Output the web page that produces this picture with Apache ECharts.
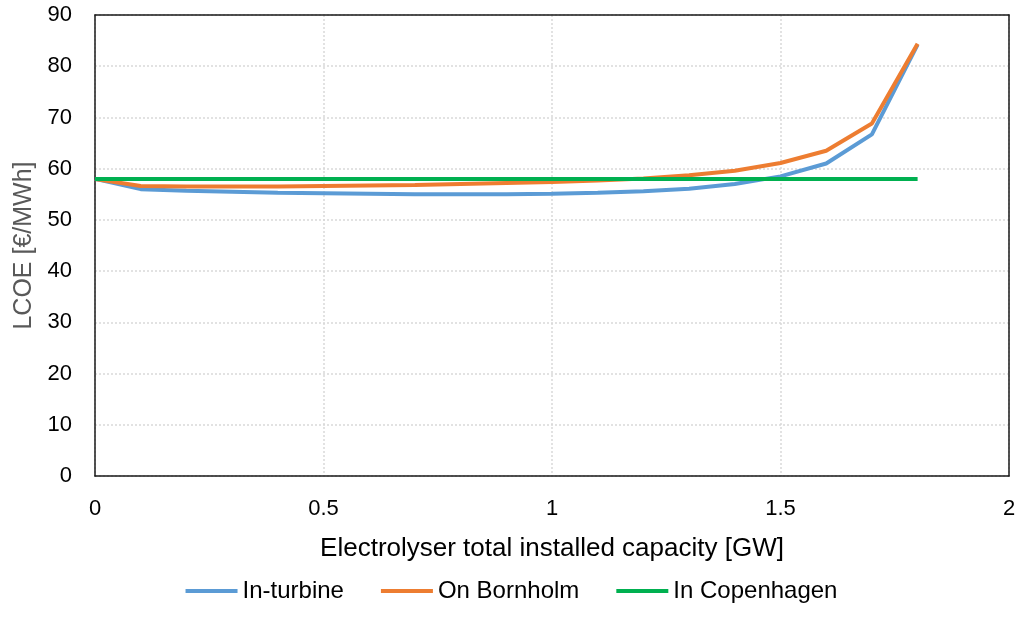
<!DOCTYPE html>
<html>
<head>
<meta charset="utf-8">
<script src="https://cdn.jsdelivr.net/npm/echarts@6/dist/echarts.min.js"></script>
<style>
  html, body { margin: 0; padding: 0; background: #fff; }
  #chart { width: 1023px; height: 632px; }
</style>
</head>
<body>
<div id="chart"></div>
<script>
// capacity in GW
const capacity = [0, 0.1, 0.2, 0.3, 0.4, 0.5, 0.6, 0.7, 0.8, 0.9, 1.0, 1.1, 1.2, 1.3, 1.4, 1.5, 1.6, 1.7, 1.8];
// LCOE [€/MWh]
const inTurbine = [58, 56.0, 55.7, 55.5, 55.3, 55.2, 55.1, 55.0, 55.0, 55.0, 55.1, 55.3, 55.6, 56.1, 57.0, 58.5, 61.0, 66.7, 84.2];
const onBornholm = [58, 56.6, 56.5, 56.5, 56.5, 56.6, 56.7, 56.8, 57.0, 57.2, 57.4, 57.7, 58.1, 58.7, 59.6, 61.1, 63.5, 68.8, 84.4];
const inCopenhagen = [58, 58, 58, 58, 58, 58, 58, 58, 58, 58, 58, 58, 58, 58, 58, 58, 58, 58, 58];
const seriesNames = ["In-turbine", "On Bornholm", "In Copenhagen"];
const xTicks = [0, 0.5, 1, 1.5, 2];

const pairs = (ys) => capacity.map((x, i) => [x, ys[i]]);

const chart = echarts.init(document.getElementById("chart"));
const font = "Liberation Sans, Arial, sans-serif";
const gridLine = { show: true, lineStyle: { color: "#d9d9d9", type: [2, 2], width: 1.5 } };
const frameLine = { show: true, onZero: false, lineStyle: { color: "#1a1a1a", width: 1.5 } };

const lineSeries = (name, ys, color) => ({
  name: name,
  type: "line",
  data: pairs(ys),
  showSymbol: false,
  symbol: "none",
  lineStyle: { color: color, width: 4 },
  itemStyle: { color: color },
  z: 3,
});

chart.setOption({
  animation: false,
  textStyle: { fontFamily: font },
  grid: {
    left: 95,
    right: 14,
    top: 15,
    bottom: 156,
  },
  legend: {
    top: 574,
    left: "center",
    icon: "rect",
    itemWidth: 52,
    itemHeight: 4,
    itemGap: 37,
    textStyle: { fontFamily: font, fontSize: 24, color: "#000" },
    data: seriesNames,
  },
  xAxis: [
    {
      type: "value",
      min: 0,
      max: 2,
      interval: 0.5,
      name: "Electrolyser total installed capacity [GW]",
      nameLocation: "middle",
      nameGap: 60,
      nameTextStyle: { fontFamily: font, fontSize: 26, color: "#000" },
      axisLine: frameLine,
      axisTick: { show: false },
      axisLabel: {
        fontFamily: font,
        fontSize: 22,
        color: "#000",
        margin: 22,
        formatter: (v) => (xTicks.includes(v) ? String(v) : ""),
      },
      splitLine: gridLine,
    },
    {
      type: "value",
      position: "top",
      min: 0,
      max: 2,
      interval: 0.5,
      axisLine: frameLine,
      axisTick: { show: false },
      axisLabel: { show: false },
      splitLine: { show: false },
    },
  ],
  yAxis: [
    {
      type: "value",
      min: 0,
      max: 90,
      interval: 10,
      name: "LCOE [€/MWh]",
      nameLocation: "middle",
      nameGap: 57,
      nameTextStyle: { fontFamily: font, fontSize: 25, color: "#595959" },
      axisLine: frameLine,
      axisTick: { show: false },
      axisLabel: { fontFamily: font, fontSize: 22, color: "#000", margin: 23 },
      splitLine: gridLine,
    },
    {
      type: "value",
      position: "right",
      min: 0,
      max: 90,
      interval: 10,
      axisLine: frameLine,
      axisTick: { show: false },
      axisLabel: { show: false },
      splitLine: { show: false },
    },
  ],
  series: [
    lineSeries(seriesNames[0], inTurbine, "#5b9bd5"),
    lineSeries(seriesNames[1], onBornholm, "#ed7d31"),
    lineSeries(seriesNames[2], inCopenhagen, "#00b050"),
  ],
});
</script>
</body>
</html>
